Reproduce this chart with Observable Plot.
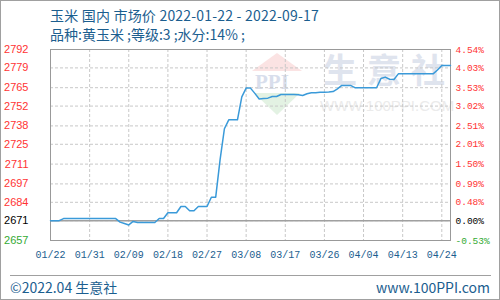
<!DOCTYPE html>
<html><head><meta charset="utf-8">
<script src="https://cdn.jsdelivr.net/npm/d3@7"></script>
<script src="https://cdn.jsdelivr.net/npm/@observablehq/plot@0.6"></script>
<style>
body{margin:0;background:#fff;}
#wrap{position:relative;width:500px;height:300px;background:#fff;overflow:hidden;font-family:"Noto Sans CJK SC","Noto Sans",sans-serif;}
#border{position:absolute;left:0;top:0;width:500px;height:300px;box-sizing:border-box;border:1px solid #a0a0a0;pointer-events:none;}
.t{position:absolute;color:#1b5e8f;white-space:nowrap;}
#chart{position:absolute;left:0;top:40px;}
.wm{position:absolute;white-space:nowrap;line-height:1;}
.wc{position:absolute;top:52px;font-size:34px;line-height:1;color:#dfe4ee;font-weight:bold;}
</style></head>
<body>
<div id="wrap">
  <div class="wc" style="left:323px;">生</div>
  <div class="wc" style="left:367px;">意</div>
  <div class="wc" style="left:411px;">社</div>
  <div class="wm" style="left:320px;top:98px;font-size:15px;color:#ebebeb;font-family:'Liberation Sans',Arial,sans-serif;">WWW.100PPI.COM</div>
  <div class="wm" style="left:252px;top:53px;width:0;height:0;border-left:25px solid transparent;border-right:25px solid transparent;border-bottom:18px solid #fbe3e3;"></div>
  <div class="wm" style="left:255px;top:72px;font-size:21px;font-weight:bold;color:#d8deec;font-family:'Liberation Serif',serif;">PPI</div>
  <div class="wm" style="left:254px;top:93px;width:0;height:0;border-left:23px solid transparent;border-right:23px solid transparent;border-top:22px solid #e3f2e3;"></div>
  <div class="t" id="title" style="left:50px;top:5px;font-size:14px;letter-spacing:0.2px;"></div>
  <div class="t" id="subtitle" style="left:50px;top:24px;font-size:14px;"></div>
  <div id="chart"></div>
  <div style="position:absolute;left:10px;top:275px;width:481px;height:0;border-top:1px solid #a0a0a0;"></div>
  <div class="t" id="foot1" style="left:10px;top:277px;font-size:14px;"></div>
  <div class="t" id="foot2" style="right:10px;top:277px;font-size:14px;"></div>
  <div id="border"></div>
</div>
<script>
const titleText = "玉米 国内 市场价 2022-01-22 - 2022-09-17";
const subtitleText = "品种:黄玉米 ;等级:3 ;水分:14% ;";
const footLeft = "©2022.04 生意社";
const footRight = "www.100PPI.com";

const yTicks = [2657, 2671, 2684, 2697, 2711, 2725, 2738, 2752, 2765, 2779, 2792];
const pctLabels = ["-0.53%", "0.00%", "0.48%", "0.99%", "1.50%", "2.01%", "2.51%", "3.02%", "3.53%", "4.03%", "4.54%"];
const basePrice = 2671;

const xTickIdx = [0, 9, 18, 27, 36, 45, 54, 63, 72, 81, 90];
const xTickLabels = ["01/22", "01/31", "02/09", "02/18", "02/27", "03/08", "03/17", "03/26", "04/04", "04/13", "04/24"];
const xDomainEnd = 92;

// daily price, one per day index 0..92
const prices = [
  2671, 2671, 2671, 2672.5, 2672.5, 2672.5, 2672.5, 2672.5, 2672.5, 2672.5,
  2672.5, 2672.5, 2672.5, 2672.5, 2672.5, 2672.5, 2670, 2669, 2668, 2670.5,
  2669.7, 2669.7, 2669.7, 2669.7, 2669.7, 2672.5, 2672.5, 2676.6, 2676.6, 2676.6,
  2681, 2681, 2678, 2678, 2681, 2681, 2681, 2687.6, 2687.6, 2714,
  2736, 2742.3, 2742.3, 2742.3, 2758.5, 2764.7, 2764.7, 2761, 2757, 2757.3,
  2757.6, 2758.8, 2758.8, 2760.2, 2760.2, 2760.2, 2760.2, 2760, 2759.5, 2760.7,
  2761.4, 2761.4, 2761.8, 2761.8, 2762, 2762.3, 2764.2, 2766.6, 2766.6, 2766.6,
  2765, 2765, 2765, 2765, 2765, 2765, 2771.5, 2772.5, 2771, 2770.8,
  2774.8, 2774.8, 2774.8, 2774.8, 2774.8, 2774.8, 2774.8, 2774.8, 2774.8, 2777.5,
  2780.7, 2780.7, 2780.7
];

document.getElementById("title").textContent = titleText;
document.getElementById("subtitle").textContent = subtitleText;
document.getElementById("foot1").textContent = footLeft;
document.getElementById("foot2").textContent = footRight;

const series = prices.map((v, i) => ({i, v}));
const leftColor = d => d === basePrice ? "#000000" : (d < basePrice ? "#33aa33" : "#ff3333");
const xTicks = xTickIdx.map((i, k) => ({i, label: xTickLabels[k]}));
const rTicks = yTicks.map((v, k) => ({v, label: pctLabels[k]}));

const chart = Plot.plot({
  width: 500,
  height: 228,
  marginTop: 9,
  marginBottom: 28,
  marginLeft: 50,
  marginRight: 50,
  x: {domain: [0, xDomainEnd], axis: null},
  y: {domain: [yTicks[0], yTicks[yTicks.length - 1]], axis: null},
  color: {type: "identity"},
  style: {background: "transparent", overflow: "visible"},
  marks: [
    Plot.ruleY(yTicks, {stroke: "#c8c8c8", strokeDasharray: "3,2"}),
    Plot.ruleX(xTickIdx, {stroke: "#c8c8c8", strokeDasharray: "3,2"}),
    Plot.ruleY([basePrice], {stroke: "#a0a0a0", strokeWidth: 1.5}),
    Plot.frame({stroke: "#999999"}),
    Plot.line(series, {x: "i", y: "v", stroke: "#3a9ad9", strokeWidth: 1.5}),
    Plot.text(yTicks, {y: d => d, text: d => String(d), frameAnchor: "left", dx: -22, textAnchor: "end",
      fill: leftColor, fontSize: 11, fontFamily: "Liberation Sans, Arial, sans-serif"}),
    Plot.text(rTicks, {y: "v", text: "label", frameAnchor: "right", dx: 5, textAnchor: "start",
      fill: d => leftColor(d.v), fontSize: 9.5, fontFamily: "Liberation Mono, monospace"}),
    Plot.text(xTicks, {x: "i", text: "label", frameAnchor: "bottom", dy: 17,
      fill: "#1b5e8f", fontSize: 10, fontFamily: "Liberation Mono, monospace"})
  ]
});
document.getElementById("chart").appendChild(chart);
</script>
</body></html>
